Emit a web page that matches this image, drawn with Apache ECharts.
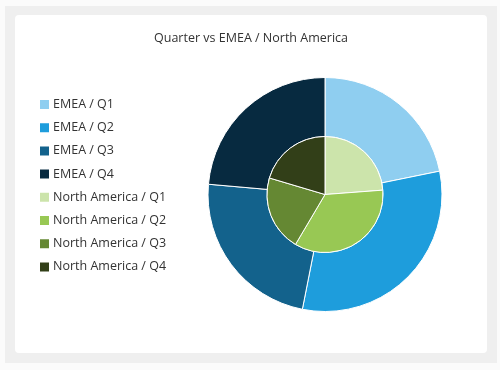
<!DOCTYPE html>
<html>
<head>
<meta charset="utf-8">
<script src="https://cdn.jsdelivr.net/npm/echarts@6/dist/echarts.min.js"></script>
<style>
html,body{margin:0;padding:0;background:#fbfbfb;width:500px;height:370px;overflow:hidden;}
#frame{position:absolute;left:5px;top:6px;width:492px;height:357px;background:#efefef;}
#card{position:absolute;left:15px;top:15px;width:472px;height:338px;background:#fff;border-radius:4px;}
#chart{position:absolute;left:0;top:0;width:472px;height:338px;}
</style>
</head>
<body>
<div id="frame"></div>
<div id="card"><div id="chart"></div></div>
<script>
var titleText = 'Quarter vs EMEA / North America';
var quarters = ['Q1', 'Q2', 'Q3', 'Q4'];
var emeaValues = [21.8, 31.3, 23.3, 23.6];
var naValues = [23.8, 34.7, 21.1, 20.4];
var emeaColors = ['#8fcef0', '#1e9ddc', '#13628c', '#072a40'];
var naColors = ['#cce4ab', '#98c854', '#658833', '#323f18'];

var emeaData = quarters.map(function (q, i) {
  return { name: 'EMEA / ' + q, value: emeaValues[i], itemStyle: { color: emeaColors[i] } };
});
var naData = quarters.map(function (q, i) {
  return { name: 'North America / ' + q, value: naValues[i], itemStyle: { color: naColors[i] } };
});

var chart = echarts.init(document.getElementById('chart'), null, { renderer: 'canvas' });
var font = '"Open Sans", "Noto Sans", sans-serif';
chart.setOption({
  animation: false,
  title: {
    text: titleText,
    left: 'center',
    top: 12,
    textStyle: { fontFamily: font, fontSize: 12.5, fontWeight: 'normal', color: '#333' }
  },
  legend: {
    orient: 'vertical',
    left: 18,
    top: 78,
    icon: 'rect',
    itemWidth: 11,
    itemHeight: 11,
    itemGap: 10.2,
    textStyle: { fontFamily: font, fontSize: 12.5, color: '#333', padding: [0, 0, 0, -2] },
    data: emeaData.map(function (d) { return d.name; }).concat(naData.map(function (d) { return d.name; }))
  },
  series: [
    {
      type: 'pie',
      name: 'EMEA',
      center: [310, 179.5],
      radius: [58, 117],
      startAngle: 90,
      label: { show: false },
      labelLine: { show: false },
      itemStyle: { borderColor: '#fff', borderWidth: 1 },
      data: emeaData
    },
    {
      type: 'pie',
      name: 'North America',
      center: [310, 179.5],
      radius: [0, 58],
      startAngle: 90,
      label: { show: false },
      labelLine: { show: false },
      itemStyle: { borderColor: '#fff', borderWidth: 1 },
      data: naData
    }
  ]
});
</script>
</body>
</html>
